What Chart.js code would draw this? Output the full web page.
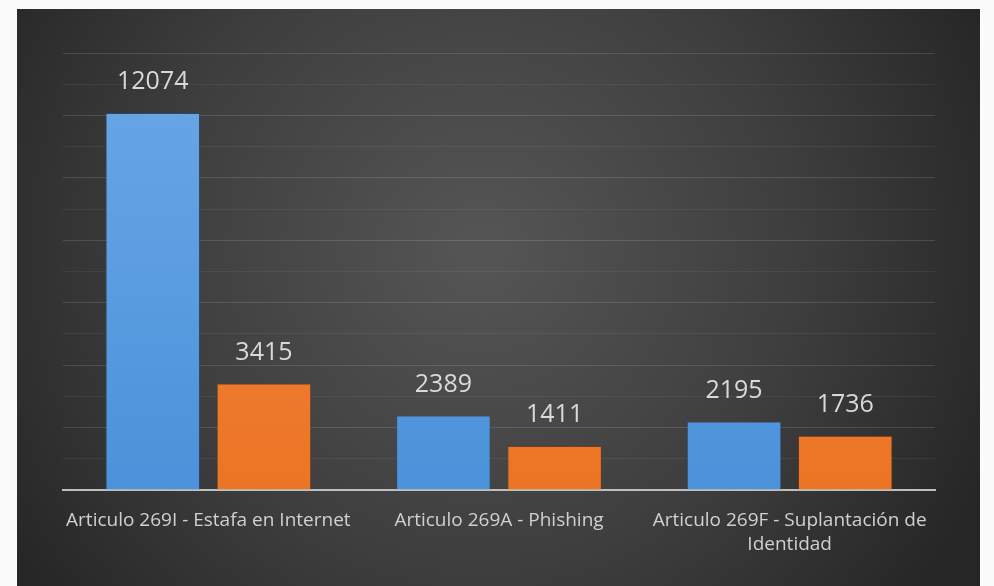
<!DOCTYPE html>
<html>
<head>
<meta charset="utf-8">
<script src="https://cdn.jsdelivr.net/npm/chart.js@4.4.0/dist/chart.umd.min.js"></script>
<style>
    html, body { margin: 0; padding: 0; background: #fbfbfb; }
    #wrap { width: 994px; height: 586px; position: relative; }
</style>
</head>
<body>
<div id="wrap"><canvas id="barChart" width="994" height="586"></canvas></div>
<script>
// Delitos informaticos por articulo
const categories = [
    'Articulo 269I - Estafa en Internet',
    'Articulo 269A - Phishing',
    ['Articulo 269F - Suplantación de', 'Identidad']
];
const seriesBlue = [12074, 2389, 2195];
const seriesOrange = [3415, 1411, 1736];
const yMax = 14000;

// dark panel with a soft light in the middle
const panelBg = {
    id: 'panelBg',
    beforeDraw(chart) {
        const ctx = chart.ctx;
        const x0 = 17, y0 = 9, x1 = 980, y1 = 586;
        const g = ctx.createRadialGradient(480, 250, 20, 480, 250, 560);
        g.addColorStop(0, '#545454');
        g.addColorStop(0.55, '#3e3e3e');
        g.addColorStop(1, '#262626');
        ctx.save();
        ctx.fillStyle = g;
        ctx.fillRect(x0, y0, x1 - x0, y1 - y0);
        ctx.restore();
    }
};

// numbers on top of the bars
const valueLabels = {
    id: 'valueLabels',
    afterDatasetsDraw(chart) {
        const ctx = chart.ctx;
        ctx.save();
        ctx.font = '25px "Open Sans", "Noto Sans", sans-serif';
        ctx.fillStyle = '#d9d9d9';
        ctx.textAlign = 'center';
        ctx.textBaseline = 'middle';
        chart.data.datasets.forEach((ds, i) => {
            chart.getDatasetMeta(i).data.forEach((bar, j) => {
                ctx.fillText(ds.data[j], bar.x, bar.y - 31);
            });
        });
        ctx.restore();
    }
};

function barFill(top, bottom) {
    return (c) => {
        const area = c.chart.chartArea;
        if (!area) return top;
        const g = c.chart.ctx.createLinearGradient(0, area.top, 0, area.bottom);
        g.addColorStop(0, top);
        g.addColorStop(1, bottom);
        return g;
    };
}

const content = document.getElementById('barChart').getContext('2d');
new Chart(content, {
    type: 'bar',
    data: {
        labels: categories,
        datasets: [{
            label: 'Serie 1',
            data: seriesBlue,
            backgroundColor: barFill('#6aa8e6', '#4b92da'),
            borderColor: 'rgba(40,80,130,0.6)',
            borderWidth: 1,
            categoryPercentage: 0.765,
            barPercentage: 0.85
        }, {
            label: 'Serie 2',
            data: seriesOrange,
            backgroundColor: barFill('#f48a3c', '#ec7425'),
            borderColor: 'rgba(130,60,20,0.6)',
            borderWidth: 1,
            categoryPercentage: 0.765,
            barPercentage: 0.85
        }]
    },
    options: {
        responsive: false,
        animation: false,
        layout: { padding: { left: 63, right: 59, top: 53, bottom: 0 } },
        plugins: {
            legend: { display: false },
            tooltip: { enabled: false }
        },
        scales: {
            x: {
                grid: { display: false, drawTicks: false },
                border: { display: true, color: '#bfbfbf', width: 2 },
                ticks: {
                    color: '#d0d0d0',
                    font: { family: '"Open Sans", "Noto Sans", sans-serif', size: 19, lineHeight: 1.3 },
                    padding: 18,
                    maxRotation: 0,
                    autoSkip: false
                },
                afterFit: (scale) => { scale.height = 96; }
            },
            y: {
                display: true,
                min: 0,
                max: yMax,
                ticks: { display: false, stepSize: 1000 },
                border: { display: false },
                grid: {
                    drawTicks: false,
                    color: (c) => (c.tick && c.tick.value % 2000 === 0)
                        ? 'rgba(255,255,255,0.13)'
                        : 'rgba(255,255,255,0.06)',
                    lineWidth: 1
                },
                afterFit: (scale) => { scale.width = 0; }
            }
        }
    },
    plugins: [panelBg, valueLabels]
});
</script>
</body>
</html>
